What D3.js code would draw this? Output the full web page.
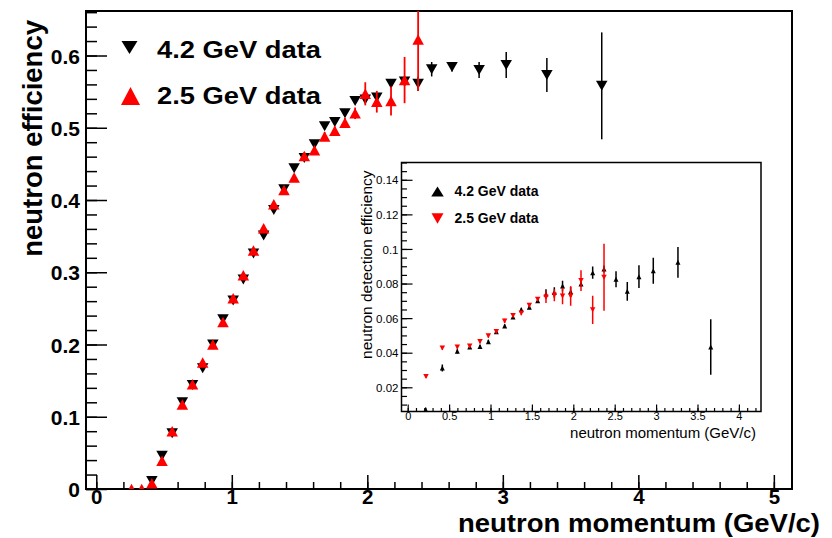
<!DOCTYPE html>
<html>
<head>
<meta charset="utf-8">
<script src="https://cdn.jsdelivr.net/npm/d3@7"></script>
<style>
  body { margin: 0; background: #fff; }
  svg { display: block; font-family: "Liberation Sans", Arial, Helvetica, sans-serif; }
</style>
</head>
<body>
<div id="chart"></div>
<script>
// main plot: 4.2 GeV (black, down triangles) and 2.5 GeV (red, up triangles)
var mainX42 = [0.41, 0.485, 0.56, 0.635, 0.71, 0.785, 0.86, 0.935, 1.01, 1.085, 1.16, 1.235, 1.31, 1.385,
               1.46, 1.535, 1.61, 1.685, 1.76, 1.835, 1.91, 1.985, 2.07, 2.175, 2.275, 2.375, 2.475,
               2.625, 2.825, 3.025, 3.325, 3.73];
var mainY42 = [0.011, 0.046, 0.077, 0.12, 0.144, 0.167, 0.2, 0.235, 0.261, 0.29, 0.326, 0.351, 0.386, 0.415,
               0.444, 0.458, 0.477, 0.502, 0.508, 0.52, 0.537, 0.539, 0.542, 0.561, 0.564, 0.561, 0.581,
               0.584, 0.58, 0.587, 0.573, 0.558];
var mainE42 = [0.002, 0.002, 0.002, 0.002, 0.002, 0.002, 0.002, 0.002, 0.002, 0.003, 0.003, 0.003, 0.003, 0.003,
               0.003, 0.003, 0.003, 0.004, 0.004, 0.004, 0.004, 0.004, 0.005, 0.005, 0.006, 0.01, 0.01,
               0.006, 0.011, 0.018, 0.0235, 0.074];

var mainX25 = [0.26, 0.335, 0.41, 0.485, 0.56, 0.635, 0.71, 0.785, 0.86, 0.935, 1.01, 1.085, 1.16, 1.235,
               1.31, 1.385, 1.46, 1.535, 1.61, 1.685, 1.76, 1.835, 1.91, 1.985, 2.07, 2.175, 2.275, 2.375];
var mainY25 = [0.0, 0.0, 0.008, 0.039, 0.08, 0.117, 0.145, 0.175, 0.2, 0.231, 0.264, 0.296, 0.33, 0.361,
               0.394, 0.414, 0.431, 0.461, 0.469, 0.488, 0.496, 0.507, 0.52, 0.547, 0.536, 0.537, 0.566, 0.622];
var mainE25 = [0.002, 0.002, 0.002, 0.002, 0.002, 0.002, 0.002, 0.003, 0.003, 0.003, 0.003, 0.003, 0.004, 0.004,
               0.004, 0.004, 0.005, 0.005, 0.005, 0.006, 0.006, 0.007, 0.008, 0.016, 0.015, 0.02, 0.032, 0.071];

// inset: 4.2 GeV (black, up triangles) and 2.5 GeV (red, down triangles)
var insetX42 = [0.217, 0.418, 0.599, 0.749, 0.873, 0.974, 1.07, 1.171, 1.272, 1.372, 1.469, 1.57, 1.67, 1.771,
                1.87, 1.968, 2.093, 2.234, 2.371, 2.516, 2.652, 2.793, 2.966, 3.264, 3.66];
var insetY42 = [0.0071, 0.0312, 0.0408, 0.0433, 0.0436, 0.0463, 0.0521, 0.0554, 0.0606, 0.0648, 0.0663, 0.0701,
                0.074, 0.0748, 0.0786, 0.0752, 0.0798, 0.0863, 0.0884, 0.0825, 0.0755, 0.084, 0.0874, 0.0923, 0.0433];
var insetE42 = [0.001, 0.002, 0.0012, 0.001, 0.001, 0.0012, 0.001, 0.001, 0.001, 0.0012, 0.0012, 0.0014,
                0.0027, 0.003, 0.003, 0.003, 0.0015, 0.0036, 0.002, 0.0046, 0.0054, 0.0066, 0.0075, 0.0089, 0.016];

var insetX25 = [0.221, 0.418, 0.599, 0.749, 0.873, 0.974, 1.07, 1.171, 1.272, 1.372, 1.469, 1.57, 1.67, 1.771,
                1.87, 1.968, 2.093, 2.234, 2.371];
var insetY25 = [0.0263, 0.0427, 0.0433, 0.0439, 0.0465, 0.0498, 0.0523, 0.0584, 0.0615, 0.0629, 0.0675, 0.0709,
                0.0721, 0.0732, 0.0728, 0.0728, 0.0817, 0.0648, 0.0836];
var insetE25 = [0.0008, 0.001, 0.001, 0.001, 0.0012, 0.0012, 0.001, 0.0012, 0.0012, 0.0012, 0.0012, 0.0012,
                0.0034, 0.0035, 0.0048, 0.0056, 0.006, 0.0082, 0.0194];

var mainXTicks = [0, 1, 2, 3, 4, 5];
var mainYTicks = [0, 0.1, 0.2, 0.3, 0.4, 0.5, 0.6];
var insetXTicks = [0, 0.5, 1, 1.5, 2, 2.5, 3, 3.5, 4];
var insetYTicks = [0.02, 0.04, 0.06, 0.08, 0.1, 0.12, 0.14];

var width = 832, height = 538;

var svg = d3.select("#chart").append("svg")
    .attr("width", width)
    .attr("height", height);

// triangle path centred on its bounding box
function tri(w, h, up) {
  var s = up ? 1 : -1;
  return "M" + (-w / 2) + "," + (s * h / 2) + "L" + (w / 2) + "," + (s * h / 2) + "L0," + (-s * h / 2) + "Z";
}

function zip(xs, ys, es) {
  return xs.map(function(x, i) { return {x: x, y: ys[i], e: es[i]}; });
}

function drawSeries(g, pts, x, y, color, w, h, up, lw) {
  g.append("g").selectAll("line")
      .data(pts)
    .enter().append("line")
      .attr("x1", function(d) { return x(d.x); })
      .attr("x2", function(d) { return x(d.x); })
      .attr("y1", function(d) { return y(d.y - d.e); })
      .attr("y2", function(d) { return y(d.y + d.e); })
      .attr("stroke", color)
      .attr("stroke-width", lw);
  g.append("g").selectAll("path")
      .data(pts)
    .enter().append("path")
      .attr("transform", function(d) { return "translate(" + x(d.x) + "," + y(d.y) + ")"; })
      .attr("d", tri(w, h, up))
      .attr("fill", color);
}

// ---------- main plot ----------
var m = {left: 86, right: 792, top: 11, bottom: 489};

var x = d3.scaleLinear().domain([-0.076, 5.134]).range([m.left, m.right]);
var y = d3.scaleLinear().domain([0, 0.6616]).range([m.bottom, m.top]);

svg.append("clipPath").attr("id", "mainclip")
  .append("rect")
    .attr("x", m.left).attr("y", m.top)
    .attr("width", m.right - m.left).attr("height", m.bottom - m.top);

svg.append("rect")
    .attr("x", m.left).attr("y", m.top)
    .attr("width", m.right - m.left).attr("height", m.bottom - m.top)
    .attr("fill", "none").attr("stroke", "#000").attr("stroke-width", 2);

// y axis: major + minor ticks pointing inward
var yMinor = d3.range(0, 0.661, 0.02);
svg.append("g")
    .attr("transform", "translate(" + m.left + ",0)")
    .call(d3.axisLeft(y).tickValues(yMinor).tickSizeInner(-11).tickSizeOuter(0).tickFormat(""))
    .call(function(g) { g.select(".domain").remove(); })
    .selectAll("line").attr("stroke-width", 1.5);

svg.append("g")
    .attr("transform", "translate(" + m.left + ",0)")
    .call(d3.axisLeft(y).tickValues(mainYTicks).tickSizeInner(-21).tickSizeOuter(0).tickPadding(6)
      .tickFormat(function(d) { return d === 0 ? "0" : d3.format(".1f")(d); }))
    .call(function(g) { g.select(".domain").remove(); })
    .call(function(g) {
      g.selectAll("line").attr("stroke-width", 1.5);
      g.selectAll("text").attr("font-size", 21).attr("font-weight", "bold").attr("fill", "#000")
        .attr("dy", "0.36em");
    });

// x axis
var xMinor = d3.range(0, 5.01, 0.2);
svg.append("g")
    .attr("transform", "translate(0," + m.bottom + ")")
    .call(d3.axisBottom(x).tickValues(xMinor).tickSizeInner(-7).tickSizeOuter(0).tickFormat(""))
    .call(function(g) { g.select(".domain").remove(); })
    .selectAll("line").attr("stroke-width", 1.5);

svg.append("g")
    .attr("transform", "translate(0," + m.bottom + ")")
    .call(d3.axisBottom(x).tickValues(mainXTicks).tickSizeInner(-14).tickSizeOuter(0).tickPadding(0)
      .tickFormat(d3.format("d")))
    .call(function(g) { g.select(".domain").remove(); })
    .call(function(g) {
      g.selectAll("line").attr("stroke-width", 1.5);
      g.selectAll("text").attr("font-size", 20.5).attr("font-weight", "bold").attr("fill", "#000")
        .attr("dy", "0.74em");
    });

// axis titles
svg.append("text")
    .attr("transform", "translate(42,20) rotate(-90)")
    .attr("text-anchor", "end")
    .attr("font-size", 27.5).attr("font-weight", "bold")
    .text("neutron efficiency");

svg.append("text")
    .attr("x", 820).attr("y", 532)
    .attr("text-anchor", "end")
    .attr("font-size", 26.5).attr("font-weight", "bold")
    .attr("textLength", 362).attr("lengthAdjust", "spacingAndGlyphs")
    .text("neutron momentum (GeV/c)");

var plot = svg.append("g").attr("clip-path", "url(#mainclip)");
drawSeries(plot, zip(mainX42, mainY42, mainE42), x, y, "#000", 11.5, 10, false, 1.5);
drawSeries(plot, zip(mainX25, mainY25, mainE25), x, y, "#ff0000", 11.5, 10.5, true, 1.8);

// main legend
var legend = svg.append("g");
legend.append("path").attr("transform", "translate(129.5,47.5)").attr("d", tri(16, 13, false)).attr("fill", "#000");
legend.append("path").attr("transform", "translate(130.5,96)").attr("d", tri(19, 18, true)).attr("fill", "#ff0000");
legend.append("text").attr("x", 157).attr("y", 57.5)
    .attr("font-size", 23).attr("font-weight", "bold")
    .attr("textLength", 164).attr("lengthAdjust", "spacingAndGlyphs")
    .text("4.2 GeV data");
legend.append("text").attr("x", 157).attr("y", 103.5)
    .attr("font-size", 23).attr("font-weight", "bold")
    .attr("textLength", 164).attr("lengthAdjust", "spacingAndGlyphs")
    .text("2.5 GeV data");

// ---------- inset ----------
var n = {left: 401.5, right: 761, top: 162.5, bottom: 411.5};

var xi = d3.scaleLinear().domain([-0.075, 4.267]).range([n.left, n.right]);
var yi = d3.scaleLinear().domain([0.006, 0.15]).range([n.bottom, n.top]);

svg.append("clipPath").attr("id", "insetclip")
  .append("rect")
    .attr("x", n.left).attr("y", n.top)
    .attr("width", n.right - n.left).attr("height", n.bottom - n.top);

svg.append("rect")
    .attr("x", n.left).attr("y", n.top)
    .attr("width", n.right - n.left).attr("height", n.bottom - n.top)
    .attr("fill", "#fff").attr("stroke", "#000").attr("stroke-width", 1.5);

var yiMinor = d3.range(0.01, 0.1501, 0.005);
svg.append("g")
    .attr("transform", "translate(" + n.left + ",0)")
    .call(d3.axisLeft(yi).tickValues(yiMinor).tickSizeInner(-5.5).tickSizeOuter(0).tickFormat(""))
    .call(function(g) { g.select(".domain").remove(); })
    .selectAll("line").attr("stroke-width", 1.2);

svg.append("g")
    .attr("transform", "translate(" + n.left + ",0)")
    .call(d3.axisLeft(yi).tickValues(insetYTicks).tickSizeInner(-11).tickSizeOuter(0).tickPadding(3)
      .tickFormat(function(d) { return d3.format(".2~f")(d); }))
    .call(function(g) { g.select(".domain").remove(); })
    .call(function(g) {
      g.selectAll("line").attr("stroke-width", 1.2);
      g.selectAll("text").attr("font-size", 11.5).attr("fill", "#000").attr("dy", "0.36em");
    });

var xiMinor = d3.range(0, 4.21, 0.1);
svg.append("g")
    .attr("transform", "translate(0," + n.bottom + ")")
    .call(d3.axisBottom(xi).tickValues(xiMinor).tickSizeInner(-3.5).tickSizeOuter(0).tickFormat(""))
    .call(function(g) { g.select(".domain").remove(); })
    .selectAll("line").attr("stroke-width", 1.2);

svg.append("g")
    .attr("transform", "translate(0," + n.bottom + ")")
    .call(d3.axisBottom(xi).tickValues(insetXTicks).tickSizeInner(-7).tickSizeOuter(0).tickPadding(1)
      .tickFormat(function(d) { return d3.format(".1~f")(d); }))
    .call(function(g) { g.select(".domain").remove(); })
    .call(function(g) {
      g.selectAll("line").attr("stroke-width", 1.2);
      g.selectAll("text").attr("font-size", 11).attr("fill", "#000");
    });

svg.append("text")
    .attr("transform", "translate(372,170.5) rotate(-90)")
    .attr("text-anchor", "end")
    .attr("font-size", 15.5)
    .text("neutron detection efficiency");

svg.append("text")
    .attr("x", 756).attr("y", 438)
    .attr("text-anchor", "end")
    .attr("font-size", 15)
    .text("neutron momentum (GeV/c)");

var inset = svg.append("g").attr("clip-path", "url(#insetclip)");
drawSeries(inset, zip(insetX42, insetY42, insetE42), xi, yi, "#000", 5, 5, true, 1.5);
drawSeries(inset, zip(insetX25, insetY25, insetE25), xi, yi, "#ff0000", 5.5, 5, false, 1.5);

var ilegend = svg.append("g");
ilegend.append("path").attr("transform", "translate(437.5,191.5)").attr("d", tri(12.5, 10, true)).attr("fill", "#000");
ilegend.append("path").attr("transform", "translate(437.5,218.5)").attr("d", tri(12, 10.5, false)).attr("fill", "#ff0000");
ilegend.append("text").attr("x", 454.5).attr("y", 196)
    .attr("font-size", 14.5).attr("font-weight", "bold")
    .attr("textLength", 84).attr("lengthAdjust", "spacingAndGlyphs")
    .text("4.2 GeV data");
ilegend.append("text").attr("x", 454.5).attr("y", 222.5)
    .attr("font-size", 14.5).attr("font-weight", "bold")
    .attr("textLength", 84).attr("lengthAdjust", "spacingAndGlyphs")
    .text("2.5 GeV data");
</script>
</body>
</html>
